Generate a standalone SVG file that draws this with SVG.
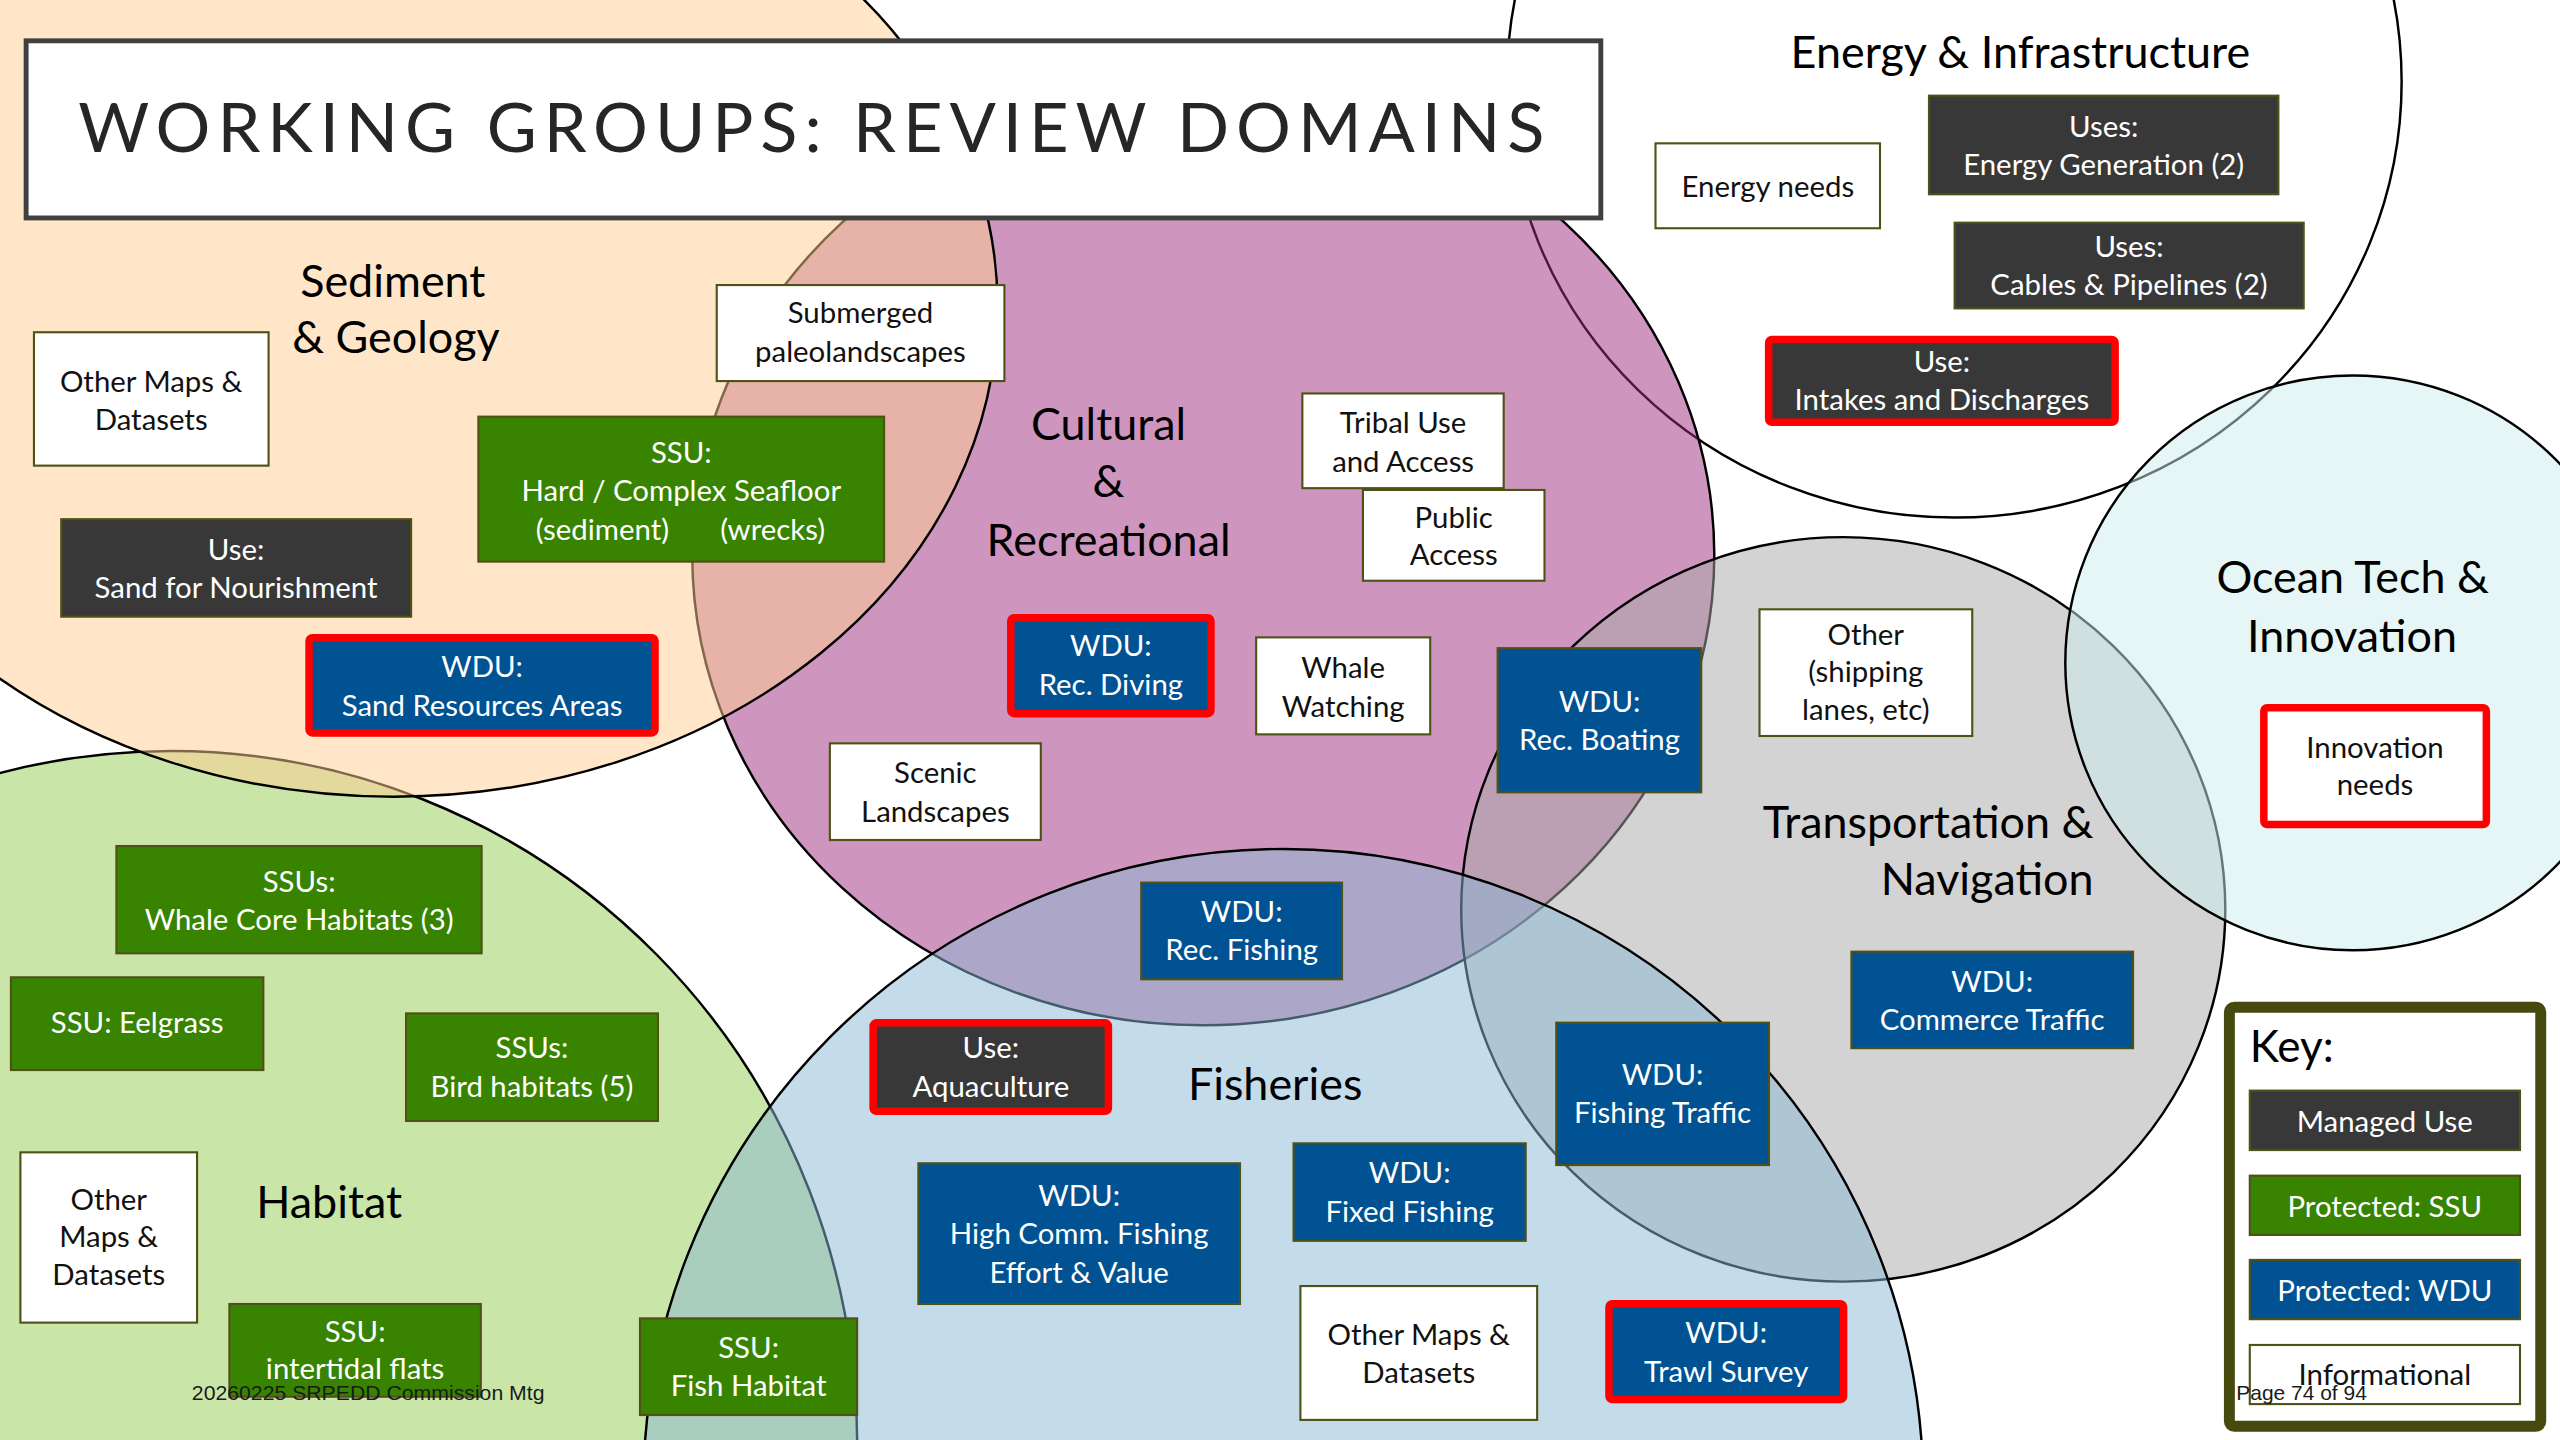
<svg xmlns="http://www.w3.org/2000/svg" width="2560" height="1440" viewBox="0 0 2560 1440">
<style>
text{font-family:Lato,"Open Sans","Liberation Sans",sans-serif}
.dom{stroke:#000;stroke-width:1.5;fill-opacity:0.5}
.b{stroke:#4F5117;stroke-width:1.3}
.r{stroke:#FF0000;stroke-width:4.6}
.info{fill:#fff}.use{fill:#383838}.ssu{fill:#388400}.wdu{fill:#005293}
.t{font-size:18px;text-anchor:middle}
.w{fill:#fff}.k{fill:#111}
.lbl{font-size:27.5px;fill:#000;text-anchor:middle}
.foot{font-family:"Liberation Sans",Arial,sans-serif;font-size:12.5px;fill:#1a1a1a}
</style>
<rect width="2560" height="1440" fill="#fff"/>
<g transform="scale(1.6326531)">
<g id="domains">
<ellipse id="energy-circle" class="dom" cx="1197" cy="50" rx="274" ry="267" fill="#fff" fill-opacity="1"/>
<ellipse id="cultural-circle" class="dom" cx="737" cy="340" rx="313" ry="288" fill="#9D2D7D"/>
<ellipse id="habitat-circle" class="dom" cx="105" cy="885" rx="420" ry="425" fill="#93CB51"/>
<ellipse id="sediment-circle" class="dom" cx="241" cy="188" rx="370" ry="300" fill="#FFCD91"/>
<ellipse id="transport-circle" class="dom" cx="1129" cy="557" rx="234" ry="228" fill="#A7A7A7"/>
<circle id="fisheries-circle" class="dom" cx="786" cy="912" r="392" fill="#89B7D3"/>
<circle id="ocean-circle" class="dom" cx="1441" cy="406" r="176" fill="#CDEDED"/>
</g>
<g id="title">
<rect x="16" y="25" width="964.5" height="108.5" fill="#fff" stroke="#404040" stroke-width="3"/>
<text x="48" y="93" font-size="42" fill="#262626" textLength="898" lengthAdjust="spacing">WORKING GROUPS: REVIEW DOMAINS</text>
</g>
<g id="labels">
<text class="lbl" x="240.6" y="181.7">Sediment</text>
<text class="lbl" x="242.5" y="216.4">&amp; Geology</text>
<text class="lbl" x="679" y="269.5">Cultural</text>
<text class="lbl" x="679" y="304.2">&amp;</text>
<text class="lbl" x="679" y="340.5">Recreational</text>
<text class="lbl" x="1237.5" y="41.9">Energy &amp; Infrastructure</text>
<text class="lbl" x="1282.3" y="513.5" text-anchor="end" style="text-anchor:end">Transportation &amp;</text>
<text class="lbl" x="1282.3" y="548.2" style="text-anchor:end">Navigation</text>
<text class="lbl" x="1441" y="363.4">Ocean Tech &amp;</text>
<text class="lbl" x="1440.6" y="399.2">Innovation</text>
<text class="lbl" x="201.6" y="746.2">Habitat</text>
<text class="lbl" x="781" y="673.7">Fisheries</text>
</g>
<g id="connectors"/>
<g id="sed-other"><rect class="b info" x="20.8" y="203.5" width="143.7" height="81.7"/><text class="t k" x="92.6" y="240">Other Maps &amp;</text><text class="t k" x="92.6" y="263.5">Datasets</text></g>
<g id="submerged"><rect class="b info" x="439" y="174.6" width="176.2" height="58.8"/><text class="t k" x="527" y="198">Submerged</text><text class="t k" x="527" y="221.5">paleolandscapes</text></g>
<g id="ssu-hard"><rect class="b ssu" x="293" y="255.2" width="248.5" height="88.8"/><text class="t w" x="417.3" y="283.5">SSU:</text><text class="t w" x="417.3" y="307">Hard / Complex Seafloor</text><text class="t w"><tspan x="369" y="330.5">(sediment)</tspan><tspan x="473.3" y="330.5">(wrecks)</tspan></text></g>
<g id="use-sand"><rect class="b use" x="37.5" y="318" width="214.3" height="59.7"/><text class="t w" x="144.6" y="343">Use:</text><text class="t w" x="144.6" y="366.5">Sand for Nourishment</text></g>
<g id="wdu-sand"><rect class="r wdu" x="189.3" y="390.6" width="211.9" height="58.3" rx="2"/><text class="t w" x="295.3" y="414.5">WDU:</text><text class="t w" x="295.3" y="438.5">Sand Resources Areas</text></g>
<g id="tribal"><rect class="b info" x="797.7" y="241" width="123.3" height="58"/><text class="t k" x="859.4" y="265.4">Tribal Use</text><text class="t k" x="859.4" y="289">and Access</text></g>
<g id="public"><rect class="b info" x="834.8" y="300.1" width="111.2" height="55.6"/><text class="t k" x="890.4" y="323.6">Public</text><text class="t k" x="890.4" y="346">Access</text></g>
<g id="wdu-diving"><rect class="r wdu" x="619.1" y="378.3" width="122.6" height="58.8" rx="2"/><text class="t w" x="680.4" y="402">WDU:</text><text class="t w" x="680.4" y="425.7">Rec. Diving</text></g>
<g id="whale"><rect class="b info" x="769.4" y="390.4" width="106.6" height="59.4"/><text class="t k" x="822.7" y="415.3">Whale</text><text class="t k" x="822.7" y="439">Watching</text></g>
<g id="scenic"><rect class="b info" x="508.3" y="455.3" width="129.2" height="59.2"/><text class="t k" x="572.9" y="479.8">Scenic</text><text class="t k" x="572.9" y="503.3">Landscapes</text></g>
<g id="wdu-boating"><rect class="b wdu" x="917.3" y="397" width="124.7" height="88.3"/><text class="t w" x="979.7" y="436">WDU:</text><text class="t w" x="979.7" y="459.4">Rec. Boating</text></g>
<g id="wdu-recfish"><rect class="b wdu" x="699" y="540.6" width="123" height="59.2"/><text class="t w" x="760.5" y="564.5">WDU:</text><text class="t w" x="760.5" y="588">Rec. Fishing</text></g>
<g id="energy-needs"><rect class="b info" x="1014" y="87.8" width="137.5" height="52"/><text class="t k" x="1082.8" y="120.5">Energy needs</text></g>
<g id="uses-gen"><rect class="b use" x="1181.5" y="58.6" width="214" height="60.4"/><text class="t w" x="1288.5" y="83.7">Uses:</text><text class="t w" x="1288.5" y="107.2">Energy Generation (2)</text></g>
<g id="uses-cables"><rect class="b use" x="1197.2" y="136.4" width="213.8" height="52.5"/><text class="t w" x="1304" y="157.2">Uses:</text><text class="t w" x="1304" y="180.7">Cables &amp; Pipelines (2)</text></g>
<g id="use-intakes"><rect class="r use" x="1083.3" y="207.9" width="212.2" height="50.8" rx="2"/><text class="t w" x="1189.4" y="227.6">Use:</text><text class="t w" x="1189.4" y="251.1">Intakes and Discharges</text></g>
<g id="other-shipping"><rect class="b info" x="1077.7" y="373.2" width="130.3" height="77.6"/><text class="t k" x="1142.8" y="395">Other</text><text class="t k" x="1142.8" y="418">(shipping</text><text class="t k" x="1142.8" y="441">lanes, etc)</text></g>
<g id="wdu-commerce"><rect class="b wdu" x="1134" y="582.9" width="172.5" height="59.1"/><text class="t w" x="1220.2" y="607.4">WDU:</text><text class="t w" x="1220.2" y="630.9">Commerce Traffic</text></g>
<g id="wdu-fishtraffic"><rect class="b wdu" x="953.2" y="626.4" width="130.3" height="87.2"/><text class="t w" x="1018.3" y="664.6">WDU:</text><text class="t w" x="1018.3" y="688">Fishing Traffic</text></g>
<g id="innovation"><rect class="r info" x="1386.6" y="433.5" width="136.3" height="71.5" rx="2"/><text class="t k" x="1454.7" y="464.5">Innovation</text><text class="t k" x="1454.7" y="487">needs</text></g>
<g id="ssus-whale"><rect class="b ssu" x="71.3" y="518.2" width="223.7" height="65.7"/><text class="t w" x="183.2" y="546.2">SSUs:</text><text class="t w" x="183.2" y="569.6">Whale Core Habitats (3)</text></g>
<g id="ssu-eelgrass"><rect class="b ssu" x="6.7" y="598.6" width="154.6" height="56.8"/><text class="t w" x="84" y="632.9">SSU: Eelgrass</text></g>
<g id="ssus-bird"><rect class="b ssu" x="248.7" y="620.7" width="154.3" height="65.9"/><text class="t w" x="325.8" y="647.8">SSUs:</text><text class="t w" x="325.8" y="671.7">Bird habitats (5)</text></g>
<g id="hab-other"><rect class="b info" x="12.5" y="705.8" width="108.2" height="104.3"/><text class="t k" x="66.6" y="741.1">Other</text><text class="t k" x="66.6" y="764">Maps &amp;</text><text class="t k" x="66.6" y="787">Datasets</text></g>
<g id="ssu-intertidal"><rect class="b ssu" x="140.5" y="798.7" width="154" height="56.8"/><text class="t w" x="217.5" y="821.8">SSU:</text><text class="t w" x="217.5" y="844.8">intertidal flats</text></g>
<g id="use-aqua"><rect class="r use" x="534.8" y="626.5" width="144.1" height="54.2" rx="2"/><text class="t w" x="606.9" y="648.2">Use:</text><text class="t w" x="606.9" y="671.7">Aquaculture</text></g>
<g id="wdu-highcomm"><rect class="b wdu" x="562.5" y="712.5" width="197" height="86.2"/><text class="t w" x="661" y="738.7">WDU:</text><text class="t w" x="661" y="762">High Comm. Fishing</text><text class="t w" x="661" y="785.6">Effort &amp; Value</text></g>
<g id="ssu-fishhab"><rect class="b ssu" x="392" y="807.5" width="133" height="59.2"/><text class="t w" x="458.5" y="832">SSU:</text><text class="t w" x="458.5" y="855">Fish Habitat</text></g>
<g id="wdu-fixed"><rect class="b wdu" x="792.3" y="700.3" width="142.2" height="59.7"/><text class="t w" x="863.4" y="724.8">WDU:</text><text class="t w" x="863.4" y="748.3">Fixed Fishing</text></g>
<g id="fish-other"><rect class="b info" x="796.5" y="787.7" width="145" height="82"/><text class="t k" x="869" y="823.8">Other Maps &amp;</text><text class="t k" x="869" y="846.9">Datasets</text></g>
<g id="wdu-trawl"><rect class="r wdu" x="985.5" y="798.5" width="143.7" height="58.7" rx="2"/><text class="t w" x="1057.3" y="822.8">WDU:</text><text class="t w" x="1057.3" y="846.3">Trawl Survey</text></g>
<g id="key">
<rect x="1365.5" y="616.9" width="190.7" height="256.7" rx="3" fill="#fff" stroke="#474A0E" stroke-width="6.7"/>
<text x="1378" y="650.3" font-size="27" fill="#000">Key:</text>
<rect class="b use" x="1378" y="668" width="165.5" height="36.4"/><text class="t w" x="1460.7" y="693.2">Managed Use</text>
<rect class="b ssu" x="1378" y="720.1" width="165.5" height="36.3"/><text class="t w" x="1460.7" y="745.2">Protected: SSU</text>
<rect class="b wdu" x="1378" y="771.7" width="165.5" height="36.3"/><text class="t w" x="1460.7" y="796.6">Protected: WDU</text>
<rect class="b info" x="1378" y="823.8" width="165.5" height="36.2"/><text class="t k" x="1460.7" y="848.3">Informational</text>
</g>
<g id="footer">
<text class="foot" x="117.5" y="857.5" textLength="216" lengthAdjust="spacingAndGlyphs">20260225 SRPEDD Commission Mtg</text>
<text class="foot" x="1369.7" y="857.5" textLength="80" lengthAdjust="spacingAndGlyphs">Page 74 of 94</text>
</g>
</g>
</svg>
